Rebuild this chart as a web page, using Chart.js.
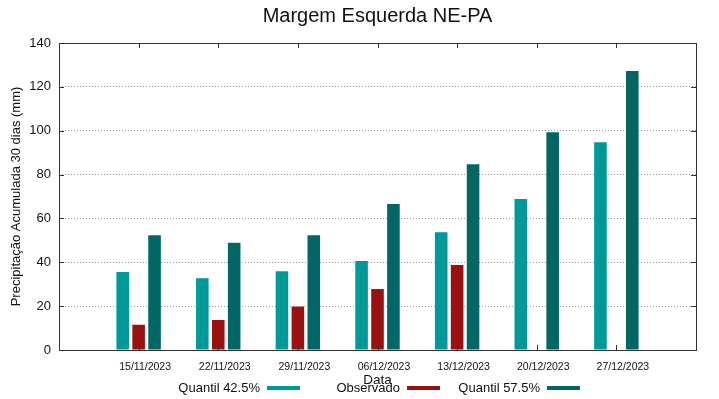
<!DOCTYPE html>
<html>
<head>
<meta charset="utf-8">
<script src="https://cdn.jsdelivr.net/npm/chart.js@4"></script>
<style>
  html, body { margin: 0; padding: 0; background: #fff; }
  #wrap { width: 719px; height: 399px; }
</style>
</head>
<body>
<div id="wrap"><canvas id="bar-chart" width="719" height="399"></canvas></div>
<script>
const dates = ['15/11/2023', '22/11/2023', '29/11/2023', '06/12/2023', '13/12/2023', '20/12/2023', '27/12/2023'];
const quantil425 = [35.6, 32.7, 35.9, 40.6, 53.7, 68.9, 94.7];
const observado = [11.5, 13.7, 19.8, 27.8, 38.8, null, null];
const quantil575 = [52.3, 48.9, 52.3, 66.6, 84.7, 99.3, 127.2];
const yTicks = [0, 20, 40, 60, 80, 100, 120, 140];

const FONT = '"Liberation Sans", Arial, sans-serif';

// empty slot on each side, like gnuplot's xrange padding
const pad = arr => [null, ...arr, null];

const data = {
  labels: ['', ...dates, ''],
  datasets: [
    { label: 'Quantil 42.5%', data: pad(quantil425), backgroundColor: '#009999' },
    { label: 'Observado', data: pad(observado), backgroundColor: '#991111' },
    { label: 'Quantil 57.5%', data: pad(quantil575), backgroundColor: '#006666' }
  ]
};

// box, inward ticks, title and gnuplot-style key
const gnuplotLook = {
  id: 'gnuplotLook',
  afterDraw(chart) {
    const ctx = chart.ctx;
    const a = chart.chartArea;
    const x = chart.scales.x, y = chart.scales.y;
    ctx.save();
    ctx.strokeStyle = '#333';
    ctx.lineWidth = 1;
    ctx.setLineDash([]);
    ctx.strokeRect(Math.round(a.left) + 0.5, Math.round(a.top) + 0.5,
      Math.round(a.right - a.left), Math.round(a.bottom - a.top));

    ctx.beginPath();
    yTicks.forEach(v => {
      const py = Math.round(y.getPixelForValue(v)) + 0.5;
      ctx.moveTo(a.left, py); ctx.lineTo(a.left + 5, py);
      ctx.moveTo(a.right, py); ctx.lineTo(a.right - 5, py);
    });
    dates.forEach((d, i) => {
      const px = Math.round(x.getPixelForValue(i + 1)) + 0.5;
      ctx.moveTo(px, a.bottom); ctx.lineTo(px, a.bottom - 5);
      ctx.moveTo(px, a.top); ctx.lineTo(px, a.top + 5);
    });
    ctx.stroke();

    ctx.fillStyle = '#111';
    ctx.textAlign = 'center';
    ctx.textBaseline = 'middle';
    ctx.font = '20px ' + FONT;
    ctx.fillText('Margem Esquerda NE-PA', (a.left + a.right) / 2, 16);

    ctx.font = '13px ' + FONT;
    chart.data.datasets.forEach((ds, i) => {
      const end = 260 + i * 140;
      ctx.textAlign = 'right';
      ctx.fillStyle = '#111';
      ctx.fillText(ds.label, end, 388);
      ctx.fillStyle = ds.backgroundColor;
      ctx.fillRect(end + 7, 386, 33, 4);
    });
    ctx.restore();
  }
};

new Chart(
  document.getElementById('bar-chart'),
  {
    type: 'bar',
    data: data,
    plugins: [gnuplotLook],
    options: {
      responsive: false,
      animation: false,
      layout: {
        padding: { top: 43, right: 23, bottom: 0, left: 0 }
      },
      datasets: {
        bar: {
          categoryPercentage: 0.6,
          barPercentage: 0.79
        }
      },
      plugins: {
        legend: { display: false },
        tooltip: { enabled: false }
      },
      scales: {
        x: {
          offset: false,
          afterFit: s => { s.height = 49; },
          border: { display: false },
          grid: { display: false, drawTicks: false },
          ticks: {
            padding: 11,
            labelOffset: 6.5,
            color: '#111',
            autoSkip: false,
            maxRotation: 0,
            font: { family: FONT, size: 10.5 }
          },
          title: {
            display: true,
            text: 'Data',
            color: '#111',
            padding: { top: 0, bottom: 11 },
            font: { family: FONT, size: 13.5 }
          }
        },
        y: {
          min: 0,
          max: 140,
          afterFit: s => { s.width = 59; },
          afterBuildTicks: s => { s.ticks = yTicks.map(v => ({ value: v })); },
          border: { display: false, dash: [1, 2] },
          grid: {
            drawTicks: false,
            color: '#999',
            lineWidth: 1
          },
          ticks: {
            padding: 8,
            color: '#111',
            font: { family: FONT, size: 13 }
          },
          title: {
            display: true,
            text: 'Precipitação Acumulada 30 dias (mm)',
            color: '#111',
            padding: { top: 9, bottom: 0 },
            font: { family: FONT, size: 13 }
          }
        }
      }
    }
  }
);
</script>
</body>
</html>
